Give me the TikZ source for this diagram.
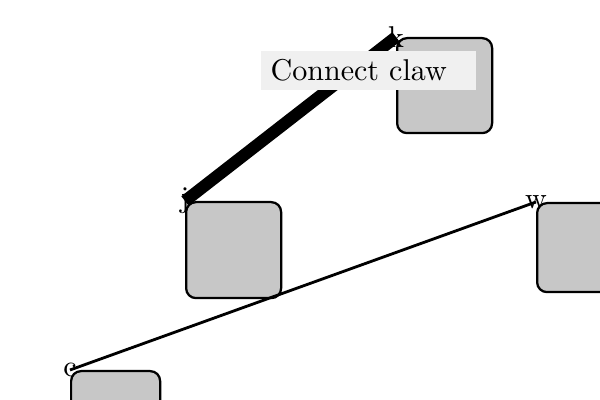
\documentclass[tikz,border=0pt]{standalone}

\begin{document}
\begin{tikzpicture}[
  font=\fontsize{10.7}{12.8}\selectfont,
  clawbox/.style={draw, fill=black!22, rounded corners=3.5pt, line width=0.8pt,
    inner sep=0pt, anchor=north west},
  tag/.style={inner sep=0pt}]
  \useasboundingbox (0,0) rectangle (7.5,5);

  \node[name=k, clawbox, minimum width=1.1875cm, minimum height=1.1875cm] at (4.95,4.5375) {};
  \node[name=j, clawbox, minimum width=1.1875cm, minimum height=1.2cm] at (2.3125,2.4875) {};
  \node[name=w, clawbox, minimum width=1.1125cm, minimum height=1.1125cm] at (6.7,2.475) {};
  \node[name=c, clawbox, minimum width=1.1125cm, minimum height=1.1125cm] at (0.875,0.375) {};

  \node[name=K, tag] at (k.north west) {k};
  \node[name=J, tag] at (j.north west) {j};
  \node[name=W, tag] at (w.north west) {w};
  \node[name=C, tag] at (c.north west) {c};

  \draw[line width=4.3pt] (j.north west) -- (k.north west);
  \draw[line width=1pt] (c.north west) -- (w.north west);

  \node[name=caption, fill=black!6, anchor=north west, inner xsep=0.125cm, inner ysep=0pt,
    text width=2.4375cm, minimum height=0.4875cm, align=left] at (3.25,4.375) {Connect claw};
\end{tikzpicture}
\end{document}
